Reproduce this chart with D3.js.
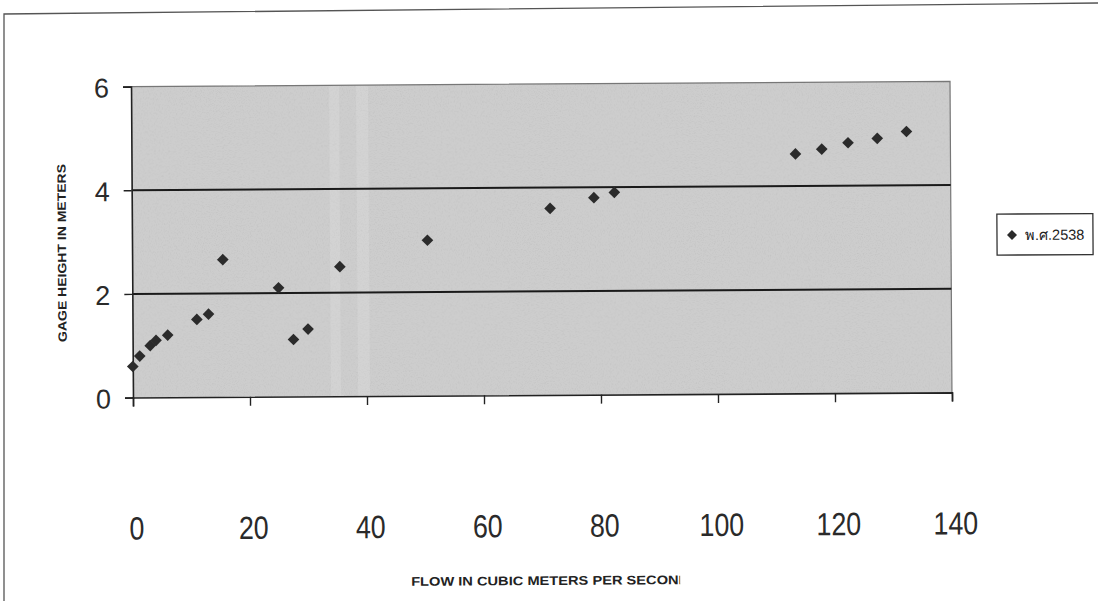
<!DOCTYPE html>
<html>
<head>
<meta charset="utf-8">
<script src="https://cdn.jsdelivr.net/npm/d3@7"></script>
<style>
  html, body { margin: 0; padding: 0; background: #fff; }
  svg { display: block; }
</style>
</head>
<body>
<svg id="chart" width="1098" height="601"></svg>
<script>
// Stage-discharge measurements (flow in m³/s vs gage height in m)
const flows   = [0, 1.2, 3, 4, 6, 11, 13, 15.5, 25, 27.5, 30, 35.5, 50.5, 71.5, 79, 82.5, 113.5, 118, 122.5, 127.5, 132.5];
const heights = [0.6, 0.8, 1.0, 1.1, 1.2, 1.5, 1.6, 2.65, 2.1, 1.1, 1.3, 2.5, 3.0, 3.6, 3.8, 3.9, 4.62, 4.71, 4.83, 4.91, 5.04];
const xTicks = [0, 20, 40, 60, 80, 100, 120, 140];
const yTicks = [0, 2, 4, 6];
const seriesName = "พ.ศ.2538";
const xTitle = "FLOW IN CUBIC METERS PER SECOND";
const yTitle = "GAGE HEIGHT IN METERS";

const svg = d3.select("#chart");
const plot = { left: 132, right: 951, top: 84, bottom: 395 };

const x = d3.scaleLinear().domain([0, 140]).range([plot.left, plot.right]);
const y = d3.scaleLinear().domain([0, 6]).range([plot.bottom, plot.top]);

const defs = svg.append("defs");
// speckled grain laid over the shaded plot area
const grain = defs.append("filter").attr("id", "grain")
  .attr("filterUnits", "objectBoundingBox")
  .attr("x", 0).attr("y", 0).attr("width", 1).attr("height", 1);
grain.append("feTurbulence").attr("type", "fractalNoise")
  .attr("baseFrequency", 0.85).attr("numOctaves", 2).attr("seed", 7);
grain.append("feColorMatrix").attr("type", "matrix")
  .attr("values", "0 0 0 0 0.35  0 0 0 0 0.35  0 0 0 0 0.35  1.6 0 0 0 -0.75");

// outer frame of the chart sheet
svg.append("path")
  .attr("d", `M4,601 L4,14 L1098,3`)
  .attr("fill", "none").attr("stroke", "#555").attr("stroke-width", 1.3);

const g = svg.append("g").attr("transform", "rotate(-0.36 541 240)");

// plot area
g.append("rect")
  .attr("x", plot.left).attr("y", plot.top)
  .attr("width", plot.right - plot.left).attr("height", plot.bottom - plot.top)
  .attr("fill", "#cdcdcd");
g.append("rect")
  .attr("x", plot.left).attr("y", plot.top)
  .attr("width", plot.right - plot.left).attr("height", plot.bottom - plot.top)
  .attr("fill", "#000").attr("opacity", 0.35).attr("filter", "url(#grain)");
// pale streaks across the shading
[[330, 10], [357, 12]].forEach(([sx, sw]) => {
  g.append("rect").attr("x", sx).attr("y", plot.top).attr("width", sw)
    .attr("height", plot.bottom - plot.top).attr("fill", "#fff").attr("opacity", 0.13);
});

// plot frame (top and right)
g.append("path")
  .attr("d", `M${plot.left},${plot.top} L${plot.right},${plot.top} L${plot.right},${plot.bottom}`)
  .attr("fill", "none").attr("stroke", "#777").attr("stroke-width", 1.2);

// horizontal gridlines
g.append("g").selectAll("line")
  .data(yTicks.filter(d => d > 0 && d < 6))
  .join("line")
  .attr("x1", plot.left).attr("x2", plot.right)
  .attr("y1", d => y(d)).attr("y2", d => y(d))
  .attr("stroke", "#1a1a1a").attr("stroke-width", 2);

// y axis
const yAxis = g.append("g")
  .attr("transform", `translate(${plot.left},0)`)
  .call(d3.axisLeft(y).tickValues(yTicks).tickSize(8).tickPadding(14).tickFormat(d3.format("d")));
yAxis.select(".domain").attr("stroke", "#222").attr("stroke-width", 1.6);
yAxis.selectAll(".tick line").attr("stroke", "#222").attr("stroke-width", 1.4);
yAxis.selectAll(".tick text")
  .attr("font-family", "'Liberation Sans', Arial, sans-serif")
  .attr("font-size", 27).attr("fill", "#2a2a2a").attr("dy", "0.38em");

// x axis
const xAxis = g.append("g")
  .attr("transform", `translate(0,${plot.bottom})`)
  .call(d3.axisBottom(x).tickValues(xTicks).tickSize(9).tickFormat(""));
xAxis.select(".domain").attr("stroke", "#222").attr("stroke-width", 1.6);
xAxis.selectAll(".tick line").attr("stroke", "#222").attr("stroke-width", 1.4);

// x tick labels, condensed and well below the axis
g.append("g").selectAll("text")
  .data(xTicks)
  .join("text")
  .attr("transform", d => `translate(${x(d) + 3},${plot.bottom + 142}) scale(0.84,1)`)
  .attr("text-anchor", "middle")
  .attr("font-family", "'Liberation Sans', Arial, sans-serif")
  .attr("font-size", 32).attr("fill", "#2a2a2a")
  .text(d => d);

// points
const pts = flows.map((f, i) => ({ f, h: heights[i] }));
const diamond = d3.symbol().type(d3.symbolSquare).size(68);
g.append("g").selectAll("path")
  .data(pts)
  .join("path")
  .attr("d", diamond)
  .attr("transform", d => `translate(${x(d.f)},${y(d.h)}) rotate(45)`)
  .attr("fill", "#2b2b2b");

// axis titles
defs.append("clipPath").attr("id", "xTitleClip")
  .append("rect").attr("x", 380).attr("y", 560).attr("width", 298).attr("height", 40);
g.append("text")
  .attr("clip-path", "url(#xTitleClip)")
  .attr("x", 409).attr("y", 585)
  .attr("font-family", "'Liberation Sans', Arial, sans-serif")
  .attr("font-weight", "bold").attr("font-size", 12.5).attr("fill", "#222")
  .attr("textLength", 278).attr("lengthAdjust", "spacingAndGlyphs")
  .text(xTitle);

g.append("text")
  .attr("transform", `translate(66,250) rotate(-90)`)
  .attr("text-anchor", "middle")
  .attr("font-family", "'Liberation Sans', Arial, sans-serif")
  .attr("font-weight", "bold").attr("font-size", 12).attr("fill", "#222")
  .attr("textLength", 178).attr("lengthAdjust", "spacingAndGlyphs")
  .text(yTitle);

// legend
const lg = g.append("g").attr("transform", "translate(997,217)");
lg.append("rect").attr("width", 96).attr("height", 41)
  .attr("fill", "#fff").attr("stroke", "#333").attr("stroke-width", 1.3);
lg.append("path").attr("d", d3.symbol().type(d3.symbolSquare).size(50))
  .attr("transform", "translate(15,21) rotate(45)").attr("fill", "#2b2b2b");
lg.append("text").attr("x", 28).attr("y", 26)
  .attr("font-family", "'Liberation Sans', 'Noto Sans', 'DejaVu Sans', sans-serif")
  .attr("font-size", 14.5).attr("fill", "#222")
  .text(seriesName);
</script>
</body>
</html>
